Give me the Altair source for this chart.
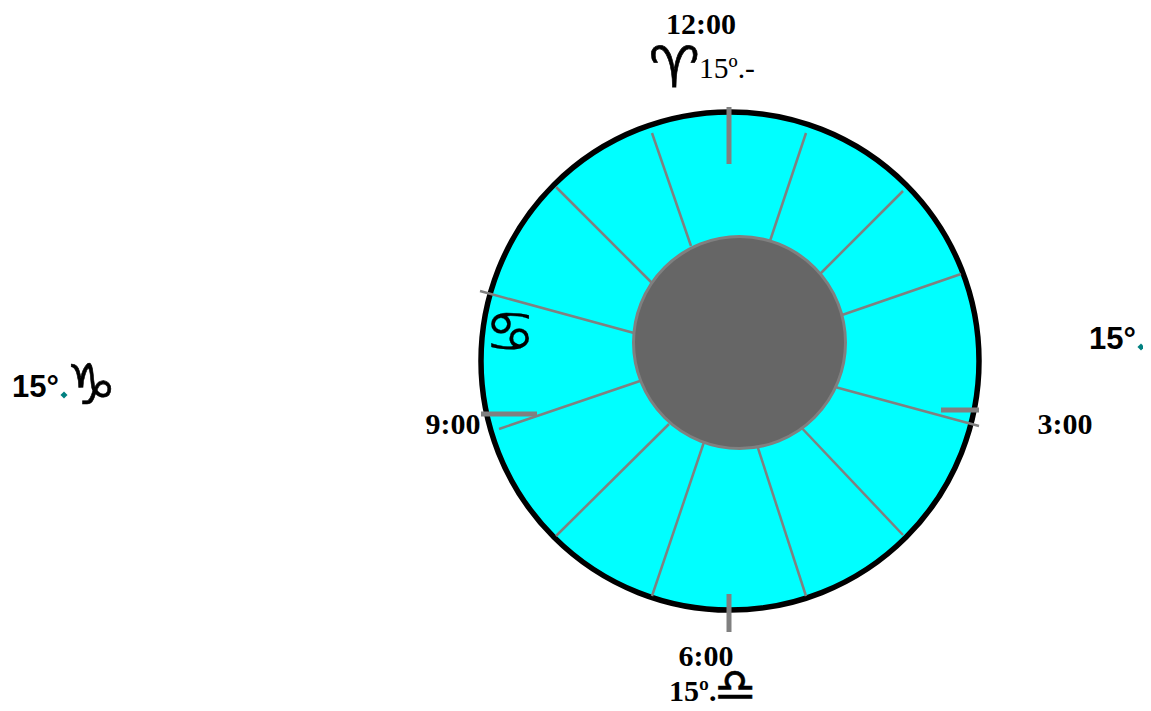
import altair as alt
import pandas as pd

W, H = 1135, 695

# circles: centre x, centre y, radius
outer_circle = [730, 361, 249]
inner_circle = [739.5, 342.5, 106]

# thin spokes
spoke_x1 = [691, 770, 820, 842, 835, 798, 757, 704, 669, 640, 634, 652]
spoke_y1 = [246, 241, 274, 315, 387, 424, 445, 442, 424, 381, 333, 283]
spoke_x2 = [652, 806, 903, 961, 979, 903, 806, 652, 556, 499, 480, 556]
spoke_y2 = [133, 133, 191, 274, 426, 535, 596, 596, 536, 429, 291, 187]

# thick hour ticks
tick_x1 = [729, 729, 481, 941]
tick_y1 = [107, 594, 414, 410]
tick_x2 = [729, 729, 537, 979]
tick_y2 = [164, 632, 414, 410]

hour_labels = ["12:00", "3:00", "6:00", "9:00"]
hour_x = [701, 1065, 706, 453]
hour_y = [34, 434, 666, 434]

sign_glyphs = ["\u2648", "\u2651", "\u264E"]
sign_x = [674, 91, 735]
sign_y = [87, 404, 701]
sign_size = [57, 56, 46]

cancer_glyph = ["\u264B"]
cancer_x = [510]
cancer_y = [334]
cancer_size = 56

sans_deg = ["15\u00b0", "15\u00b0"]
sans_x = [1089, 12]
sans_y = [349, 397]

teal_x = [1141, 64]
teal_y = [347, 395]

top_deg = ["15\u00ba.-"]
top_x = [699]
top_y = [78]

bottom_deg = ["15\u00ba."]
bottom_x = [669]
bottom_y = [701]

xs = alt.Scale(domain=[8, 8 + W], range=[0, W], nice=False, zero=False)
ys = alt.Scale(domain=[8, 8 + H], range=[0, H], nice=False, zero=False)
X = lambda f: alt.X(f, type="quantitative", scale=xs, axis=None)
Y = lambda f: alt.Y(f, type="quantitative", scale=ys, axis=None)


def circle(c, fill, stroke, sw):
    return alt.Chart(pd.DataFrame({"x": [c[0]], "y": [c[1]]})).mark_point(
        shape="circle", filled=True, fill=fill, stroke=stroke, strokeWidth=sw,
        size=(2 * c[2]) ** 2, opacity=1,
    ).encode(x=X("x"), y=Y("y"))


def segs(x1, y1, x2, y2, color, sw):
    df = pd.DataFrame({"x": x1, "y": y1, "x2": x2, "y2": y2})
    return alt.Chart(df).mark_rule(color=color, strokeWidth=sw).encode(
        x=X("x"), y=Y("y"), x2="x2", y2="y2"
    )


def text(labels, x, y, font, size, weight="normal", align="left"):
    df = pd.DataFrame({"t": labels, "x": x, "y": y})
    return alt.Chart(df).mark_text(
        font=font, fontSize=size, fontWeight=weight, align=align,
        baseline="alphabetic", color="black",
    ).encode(x=X("x"), y=Y("y"), text="t:N")


signs = alt.Chart(
    pd.DataFrame({"t": sign_glyphs, "x": sign_x, "y": sign_y, "s": sign_size})
).mark_text(
    font="DejaVu Sans", align="center", baseline="alphabetic", color="black",
    stroke="black", strokeWidth=0.6,
).encode(
    x=X("x"), y=Y("y"), text="t:N",
    size=alt.Size("s:Q", scale=None, legend=None),
)

cancer = alt.Chart(
    pd.DataFrame({"t": cancer_glyph, "x": cancer_x, "y": cancer_y})
).mark_text(
    font="DejaVu Sans", align="center", baseline="middle", color="black",
    stroke="black", strokeWidth=0.3, fontSize=cancer_size,
).encode(x=X("x"), y=Y("y"), text="t:N")

teal = alt.Chart(pd.DataFrame({"x": teal_x, "y": teal_y})).mark_point(
    shape="diamond", filled=True, color="#008080", size=50, opacity=1
).encode(x=X("x"), y=Y("y"))

chart = alt.layer(
    circle(outer_circle, "#00ffff", "black", 5.5),
    segs(spoke_x1, spoke_y1, spoke_x2, spoke_y2, "#808080", 2.5),
    segs(tick_x1, tick_y1, tick_x2, tick_y2, "#808080", 5),
    circle(inner_circle, "#666666", "#808080", 3),
    text(hour_labels, hour_x, hour_y, "Liberation Serif", 30, "bold", "center"),
    signs,
    cancer,
    text(sans_deg, sans_x, sans_y, "Liberation Sans", 31, "bold"),
    text(top_deg, top_x, top_y, "Liberation Serif", 29.5),
    text(bottom_deg, bottom_x, bottom_y, "Liberation Serif", 30, "bold"),
    teal,
).properties(
    width=W, height=H, padding=0, autosize=alt.AutoSizeParams(type="none")
).configure_view(stroke=None)

chart.save("out.html", embed_options={"renderer": "svg", "actions": False})
